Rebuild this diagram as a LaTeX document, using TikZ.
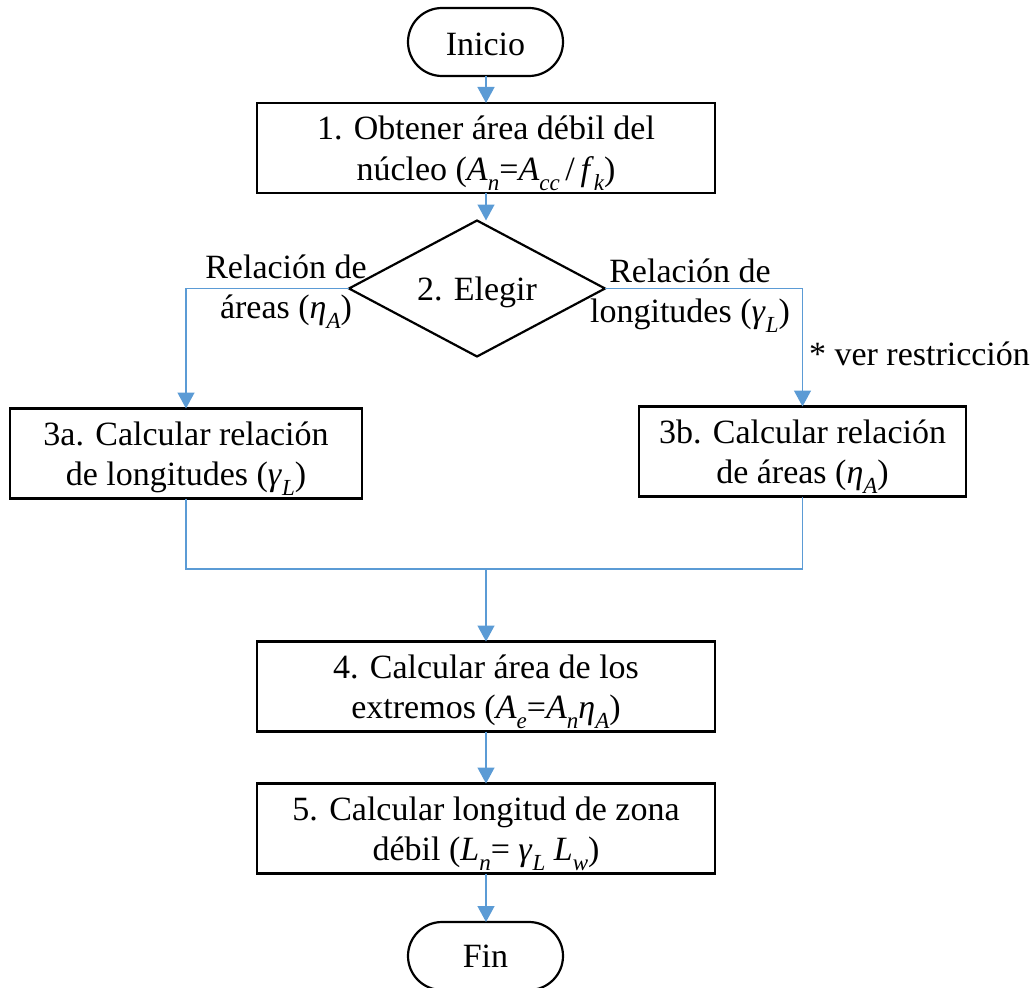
\documentclass[tikz,border=0pt]{standalone}
\usepackage{fontspec}
\setmainfont{Liberation Serif}
\usetikzlibrary{arrows.meta,shapes.geometric}
\definecolor{lnblue}{HTML}{5B9BD5}
\newcommand\ii[1]{\textit{#1}}
\newcommand\sbi[1]{\raisebox{-10pt}[0pt][0pt]{\fontsize{23}{23}\selectfont\itshape #1}}
\newcommand\topst{\rule{0pt}{32pt}}
\newcommand\botst{\rule[-8pt]{0pt}{8pt}}
\newcommand\lowr[2]{\raisebox{-#1}[\height][\depth]{#2}}
\begin{document}
\begin{tikzpicture}[x=1pt,y=-1pt,
  every node/.style={font=\fontsize{34}{40}\selectfont, inner sep=0pt, outer sep=0pt},
  stepbox/.style={draw=black, line width=2.6pt, align=center, minimum height=90pt},
  term/.style={draw=black, line width=2.2pt, rounded corners=34pt, minimum width=155pt, minimum height=68pt},
  choice/.style={draw=black, line width=2.2pt, diamond, aspect=1.88, minimum width=256pt, minimum height=136pt},
  lbl/.style={align=center},
  conn/.style={draw=lnblue, line width=1.4pt},
  arr/.style={conn, -{Triangle[length=16pt,width=17pt]}}
]
\useasboundingbox (0,0) rectangle (1032,987);
\node[term] (ini) at (485.5,42) {\lowr{2pt}{Inicio}};
\node[stepbox, minimum width=458pt] (b1) at (486,148) {\topst 1. Obtener área débil del\\núcleo (\ii{A}\sbi{n}=\ii{A}\sbi{cc}\,/\,\ii{f}\sbi{k})\botst};
\node[choice] (d) at (477,288.5) {\lowr{4pt}{2. Elegir}};
\node[lbl] (lL) at (286,286) {\topst Relación de\\áreas (\ii{η}\sbi{A})\botst};
\node[lbl] (lR) at (690,290) {\topst Relación de\\longitudes (\ii{γ}\sbi{L})\botst};
\node[anchor=base west] (nt) at (809,365) {* ver restricción};
\node[stepbox, minimum width=352pt] (b3a) at (186,453.5) {\topst 3a. Calcular relación\\de longitudes (\ii{γ}\sbi{L})\botst};
\node[stepbox, minimum width=327pt] (b3b) at (802.5,451.5) {\topst 3b. Calcular relación\\de áreas (\ii{η}\sbi{A})\botst};
\coordinate (m) at (486,569);
\node[stepbox, minimum width=458pt] (b4) at (486,686.5) {\topst 4. Calcular área de los\\extremos (\ii{A}\sbi{e}=\ii{A}\sbi{n}\ii{η}\sbi{A})\botst};
\node[stepbox, minimum width=458pt] (b5) at (486,828.5) {\topst 5. Calcular longitud de zona\\débil (\ii{L}\sbi{n}= \ii{γ}\sbi{L} \ii{L}\sbi{w})\botst};
\node[term] (fin) at (485.5,956) {Fin};
\draw[arr] (b1.north |- ini.south) -- (b1.north);
\draw[arr] (b1.south) -- (b1.south |- d.north);
\draw[arr] (d.west) -| (b3a.north);
\draw[arr] (d.east) -| (b3b.north);
\draw[conn] (b3a.south) |- (m);
\draw[conn] (b3b.south) |- (m);
\draw[arr] (m) -- (b4.north);
\draw[arr] (b4) -- (b5);
\draw[arr] (b5.south) -- (b5.south |- fin.north);
\end{tikzpicture}
\end{document}
